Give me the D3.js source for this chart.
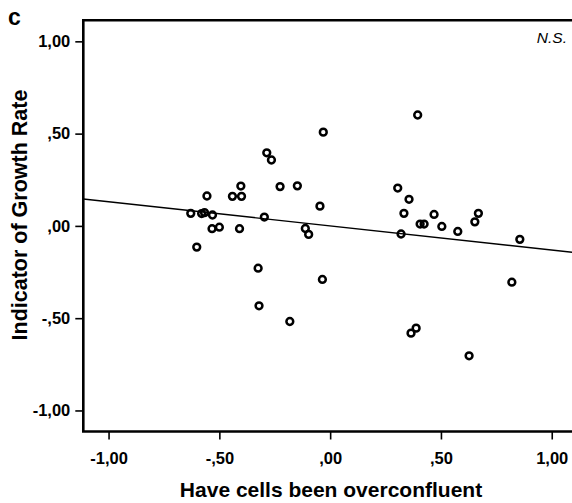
<!DOCTYPE html>
<html><head><meta charset="utf-8">
<script src="https://cdn.jsdelivr.net/npm/d3@7"></script>
<style>body{margin:0;background:#fff}svg{display:block}</style>
</head><body>
<script>
// Data
const xValues = [-0.629,-0.602,-0.580,-0.567,-0.556,-0.531,-0.533,-0.500,-0.441,-0.403,-0.400,-0.409,-0.297,-0.325,-0.321,-0.286,-0.265,-0.226,-0.182,-0.148,-0.112,-0.097,-0.046,-0.035,-0.031,0.305,0.320,0.333,0.356,0.365,0.388,0.395,0.406,0.424,0.469,0.504,0.576,0.627,0.653,0.669,0.820,0.856];
const yValues = [0.068,-0.115,0.067,0.072,0.162,0.059,-0.015,-0.007,0.160,0.216,0.160,-0.015,0.048,-0.229,-0.433,0.396,0.357,0.213,-0.518,0.217,-0.014,-0.046,0.107,-0.290,0.508,0.205,-0.044,0.068,0.144,-0.581,-0.554,0.601,0.010,0.010,0.062,-0.003,-0.030,-0.704,0.022,0.068,-0.305,-0.073];
const fitIntercept = 0.0;
const fitSlope = -0.131;
const xTicks = [-1, -0.5, 0, 0.5, 1];
const yTicks = [1, 0.5, 0, -0.5, -1];
const xTickLabels = ["-1,00", "-,50", ",00", ",50", "1,00"];
const yTickLabels = ["1,00", ",50", ",00", "-,50", "-1,00"];
const xTitle = "Have cells been overconfluent";
const yTitle = "Indicator of Growth Rate";
const panelLabel = "c";
const note = "N.S.";

const W = 572, H = 503;
const mLeft = 83.3, mTop = 20.3, mRight = 577, mBottom = 431.5;
const svg = d3.select("body").append("svg").attr("width", W).attr("height", H)
  .style("font-family", "'Liberation Sans', Arial, sans-serif");

const x = d3.scaleLinear().domain([-1.114, 1.114]).range([mLeft, mRight]);
const y = d3.scaleLinear().domain([-1.114, 1.114]).range([mBottom, mTop]);

svg.append("clipPath").attr("id","c").append("rect")
  .attr("x", mLeft).attr("y", mTop).attr("width", mRight-mLeft).attr("height", mBottom-mTop);

// regression line
const [x0, x1] = x.domain();
svg.append("line").attr("clip-path","url(#c)")
  .attr("x1", x(x0)).attr("y1", y(fitIntercept + fitSlope*x0))
  .attr("x2", x(x1)).attr("y2", y(fitIntercept + fitSlope*x1))
  .attr("stroke", "#000").attr("stroke-width", 1.4);

// points
svg.append("g").selectAll("circle").data(xValues.map((v,i)=>[v, yValues[i]]))
  .join("circle")
  .attr("cx", d=>x(d[0])).attr("cy", d=>y(d[1])).attr("r", 3.4)
  .attr("fill", "none").attr("stroke", "#000").attr("stroke-width", 2.5);

// axes
const xAxis = d3.axisBottom(x).tickValues(xTicks).tickSize(8).tickPadding(13)
  .tickFormat((d,i)=>xTickLabels[i]);
const yAxis = d3.axisLeft(y).tickValues(yTicks).tickSize(8).tickPadding(5)
  .tickFormat((d,i)=>yTickLabels[i]);

const gx = svg.append("g").attr("transform", `translate(0,${mBottom})`).call(xAxis);
const gy = svg.append("g").attr("transform", `translate(${mLeft},0)`).call(yAxis);
[gx, gy].forEach(g=>{
  g.select(".domain").remove();
  g.selectAll(".tick line").attr("stroke","#000").attr("stroke-width",1.6);
  g.selectAll(".tick text").attr("fill","#000").style("font-size","16.5px").style("font-weight","bold")
   .style("font-family","'Liberation Sans', Arial, sans-serif");
});

// frame: left, bottom, top
svg.append("path")
  .attr("d", `M${mRight},${mTop}H${mLeft}V${mBottom}H${mRight}`)
  .attr("fill","none").attr("stroke","#000").attr("stroke-width",2.6);

// titles
svg.append("text").attr("x", 331).attr("y", 497).attr("text-anchor","middle")
  .style("font-size","21px").style("font-weight","bold").text(xTitle);
svg.append("text").attr("transform", `translate(27,215) rotate(-90)`)
  .attr("text-anchor","middle")
  .style("font-size","21.5px").style("font-weight","bold").text(yTitle);
svg.append("text").attr("x", 8).attr("y", 25)
  .style("font-size","23px").style("font-weight","bold").text(panelLabel);
svg.append("text").attr("x", 567).attr("y", 43).attr("text-anchor","end")
  .style("font-size","15.5px").style("font-style","italic").text(note);
</script>
</body></html>
